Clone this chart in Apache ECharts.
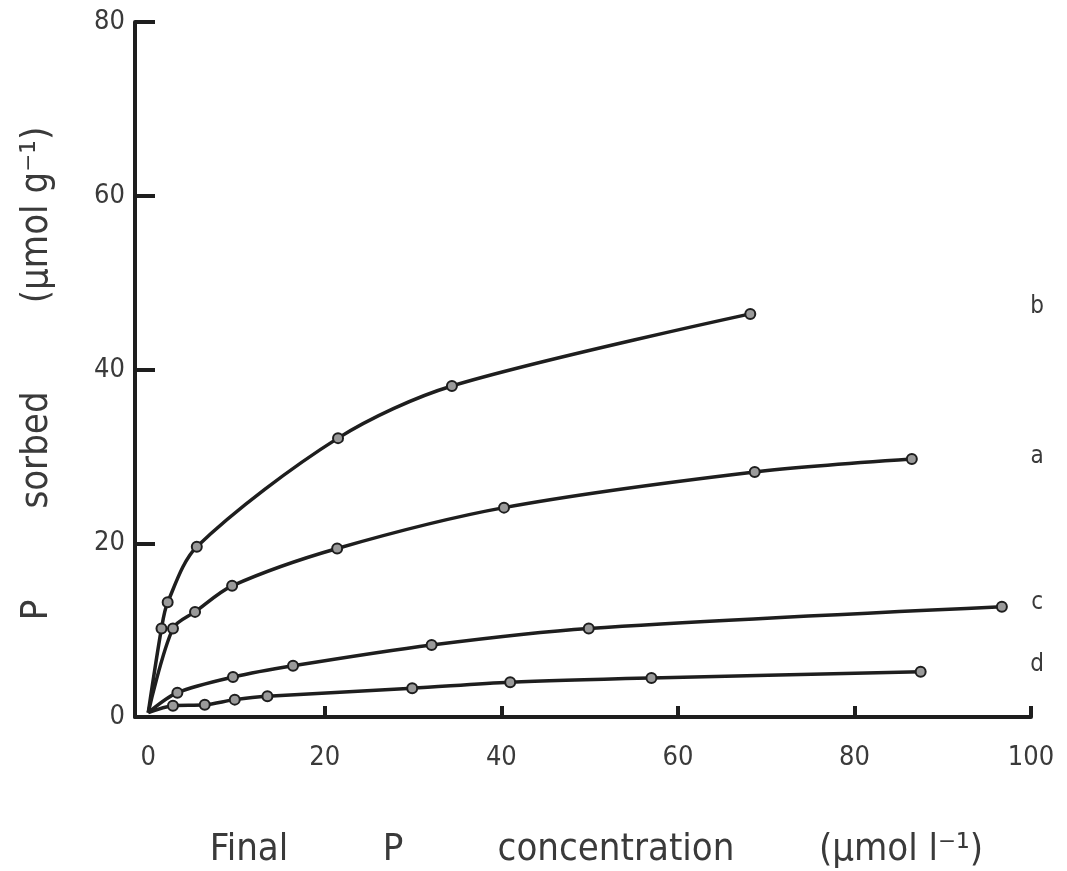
<!DOCTYPE html>
<html>
<head>
<meta charset="utf-8">
<script src="https://cdn.jsdelivr.net/npm/echarts@6/dist/echarts.min.js"></script>
<style>
html,body{margin:0;padding:0;background:#fff;}
#chart{width:1067px;height:871px;}
</style>
</head>
<body>
<div id="chart"></div>
<script>
// ---- data ----
const xTickLabels = [0, 20, 40, 60, 80, 100];
const yTickLabels = [0, 20, 40, 60, 80];
const seriesNames = ['b', 'a', 'c', 'd'];
const bX = [0, 1.5, 2.2, 5.5, 21.5, 34.4, 68.2];
const bY = [0.5, 10.2, 13.2, 19.6, 32.1, 38.1, 46.4];
const aX = [0, 2.8, 5.3, 9.5, 21.4, 40.3, 68.7, 86.5];
const aY = [0.5, 10.2, 12.1, 15.1, 19.4, 24.1, 28.2, 29.7];
const cX = [0, 3.3, 9.6, 16.4, 32.1, 49.9, 96.7];
const cY = [0.5, 2.8, 4.6, 5.9, 8.3, 10.2, 12.7];
const dX = [0, 2.8, 6.4, 9.8, 13.5, 29.9, 41.0, 57.0, 87.5];
const dY = [0.5, 1.3, 1.4, 2.0, 2.4, 3.3, 4.0, 4.5, 5.2];
const labelX = [100.7, 100.7, 100.7, 100.7];
const labelY = [47.2, 30.0, 13.1, 6.0];

const FONT = '"DejaVu Sans Condensed", "DejaVu Sans", sans-serif';
const INK = '#1e1e1e';
const TXT = '#3a3a3a';

function pts(xs, ys) {
  return xs.map((x, i) => i === 0 ? { value: [x, ys[i]], symbol: 'none' } : [x, ys[i]]);
}
function lineSeries(name, xs, ys) {
  return {
    name: name, type: 'line', data: pts(xs, ys),
    smooth: 0.3,
    symbol: 'circle', symbolSize: 10, showAllSymbol: true,
    lineStyle: { color: INK, width: 3.5 },
    itemStyle: { color: '#9a9a9a', borderColor: INK, borderWidth: 2 },
    clip: false, z: 3
  };
}

const chart = echarts.init(document.getElementById('chart'), null, { renderer: 'canvas' });
chart.setOption({
  animation: false,
  backgroundColor: '#ffffff',
  grid: { left: 135, right: 36, top: 22, bottom: 154, containLabel: false },
  xAxis: {
    type: 'value', min: -1.5, max: 100,
    splitLine: { show: false },
    axisLine: { show: true, onZero: false, lineStyle: { color: INK, width: 4 } },
    axisTick: { show: true, inside: true, length: 11, customValues: [20, 40, 60, 80, 100], lineStyle: { color: INK, width: 4 } },
    axisLabel: { customValues: xTickLabels, margin: 27, fontFamily: FONT, fontSize: 27, color: TXT }
  },
  yAxis: {
    type: 'value', min: 0, max: 80,
    splitLine: { show: false },
    axisLine: { show: true, onZero: false, lineStyle: { color: INK, width: 4 } },
    axisTick: { show: true, inside: true, length: 20, customValues: [20, 40, 60, 80], lineStyle: { color: INK, width: 4 } },
    axisLabel: { customValues: yTickLabels, margin: 10, fontFamily: FONT, fontSize: 27, color: TXT }
  },
  series: [
    lineSeries('b', bX, bY),
    lineSeries('a', aX, aY),
    lineSeries('c', cX, cY),
    lineSeries('d', dX, dY)
  ]
});

const graphics = [];
seriesNames.forEach((n, i) => {
  const p = chart.convertToPixel({ gridIndex: 0 }, [labelX[i], labelY[i]]);
  graphics.push({ type: 'text', x: p[0], y: p[1],
    style: { text: n, font: '24px ' + FONT, fill: TXT, align: 'center', verticalAlign: 'middle' } });
});
// axis titles
const xName = [['Final', 249], ['P', 393], ['concentration', 616], ['(μmol l⁻¹)', 901]];
xName.forEach(w => graphics.push({ type: 'text', x: w[1], y: 850,
  style: { text: w[0], font: '38px ' + FONT, fill: TXT, align: 'center', verticalAlign: 'middle' } }));
const yName = [['P', 610], ['sorbed', 450], ['(μmol g⁻¹)', 215]];
yName.forEach(w => graphics.push({ type: 'text', x: 37, y: w[1], rotation: Math.PI / 2,
  style: { text: w[0], font: '38px ' + FONT, fill: TXT, align: 'center', verticalAlign: 'middle' } }));
chart.setOption({ graphic: graphics });
</script>
</body>
</html>
